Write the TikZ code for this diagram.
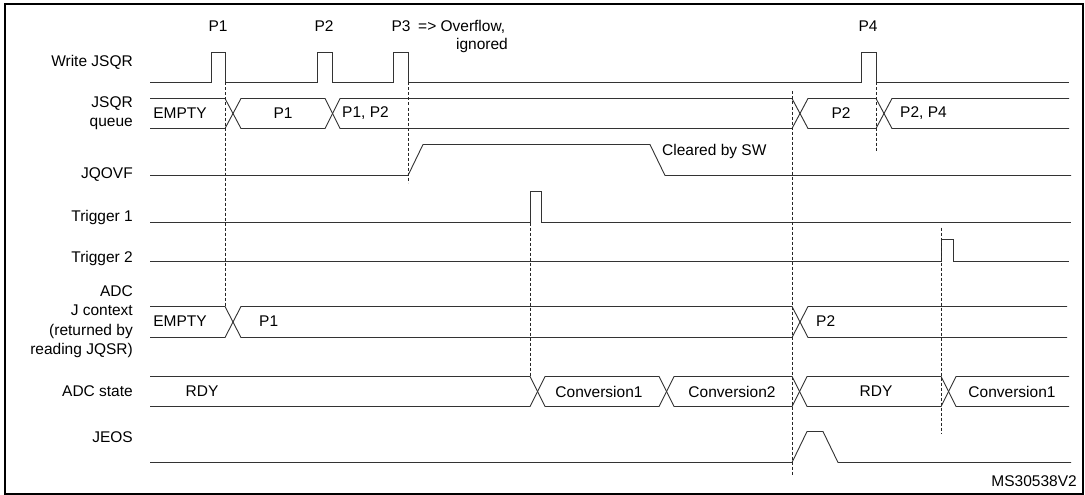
\documentclass[tikz,border=0pt]{standalone}
\usepackage{fontspec}
\setmainfont{Liberation Sans}
\begin{document}
\begin{tikzpicture}[x=1pt,y=-1pt,
  sig/.style={draw=black!80,line width=0.9pt},
  guide/.style={draw=black!85,line width=0.7pt,dash pattern=on 3pt off 2pt},
  lab/.style={anchor=east,align=right,font=\fontsize{15.5}{19}\selectfont,inner sep=0pt},
  txt/.style={font=\fontsize{15.5}{18}\selectfont,inner sep=0pt}]
\useasboundingbox (0,0) rectangle (1085,495);
\fill[white] (0,0) rectangle (1085,495);
\draw[line width=1.6pt] (5,4) rectangle (1083,494);
\begin{scope}[yshift=3.5pt]
% labels
\node[lab] (lw) at (133,66) {Write JSQR};
\node[lab] (lq) at (133,117) {JSQR\\queue};
\node[lab] (lo) at (133,178) {JQOVF};
\node[lab] (l1) at (133,221) {Trigger 1};
\node[lab] (l2) at (133,262) {Trigger 2};
\node[lab,font=\fontsize{15.5}{19.5}\selectfont] (lj) at (133,325) {ADC\\J context\\(returned by\\reading JQSR)};
\node[lab] (ls) at (133,395) {ADC state};
\node[lab] (le) at (133,441) {JEOS};
% top labels
\node[txt] (p1) at (218,30) {P1};
\node[txt] (p2) at (324,30) {P2};
\node[txt] (p3) at (401,30) {P3};
\node[txt,anchor=west] (ov) at (418,30) {=> Overflow,};
\node[txt] (ig) at (482,49) {ignored};
\node[txt] (p4) at (868,30) {P4};
% Write JSQR
\draw[sig] (150,86)--(211,86)--(211,56)--(225,56)--(225,86)--(317,86)--(317,56)--(332,56)--(332,86)
  --(393,86)--(393,56)--(408,56)--(408,86)--(861,86)--(861,56)--(876,56)--(876,86)--(1069,86);
% JSQR queue
\draw[sig] (150,102)--(225,102)--(241,132)--(325,132)--(340,102)--(792,102)--(808,132)--(876,132)--(892,102)--(1069,102);
\draw[sig] (150,132)--(225,132)--(241,102)--(325,102)--(340,132)--(792,132)--(808,102)--(876,102)--(892,132)--(1069,132);
\node[txt] (qe) at (180,117) {EMPTY};
\node[txt] (q1) at (283,117) {P1};
\node[txt,anchor=west] (q12) at (342,117) {P1, P2};
\node[txt] (q2) at (841,117) {P2};
\node[txt,anchor=west] (q24) at (900,117) {P2, P4};
% JQOVF
\draw[sig] (150,179)--(408,179)--(423,148)--(650,148)--(665,179)--(1071,179);
\node[txt,anchor=west] (cl) at (662,155) {Cleared by SW};
% Trigger 1
\draw[sig] (150,226)--(530,226)--(530,195)--(541,195)--(541,226)--(1071,226);
% Trigger 2
\draw[sig] (150,265)--(941,265)--(941,243)--(953,243)--(953,265)--(1069,265);
% J context
\draw[sig] (150,310)--(225,310)--(241,341)--(792,341)--(808,310)--(1067,310);
\draw[sig] (150,341)--(225,341)--(241,310)--(792,310)--(808,341)--(1067,341);
\node[txt] (je) at (180,325) {EMPTY};
\node[txt,anchor=west] (j1) at (259,325) {P1};
\node[txt,anchor=west] (j2) at (816,325) {P2};
% ADC state
\draw[sig] (150,380)--(530,380)--(545,410)--(659,410)--(674,380)--(792,380)--(807,410)--(941,410)--(956,380)--(1069,380);
\draw[sig] (150,410)--(530,410)--(545,380)--(659,380)--(674,410)--(792,410)--(807,380)--(941,380)--(956,410)--(1069,410);
\node[txt] (sr) at (202,395) {RDY};
\node[txt] (sc1) at (599,395) {Conversion1};
\node[txt] (sc2) at (732,395) {Conversion2};
\node[txt] (sr2) at (876,395) {RDY};
\node[txt] (sc3) at (1012,395) {Conversion1};
% JEOS
\draw[sig] (150,466)--(792,466)--(807,435)--(823,435)--(838,466)--(1071,466);
% guides
\coordinate (g1a) at (225,86); \coordinate (g1b) at (225,310);
\coordinate (g2a) at (408,86); \coordinate (g2b) at (408,186);
\coordinate (g3a) at (530,226); \coordinate (g3b) at (530,380);
\coordinate (g4a) at (792,95); \coordinate (g4b) at (792,478);
\coordinate (g5a) at (876,86); \coordinate (g5b) at (876,155);
\coordinate (g6a) at (941,231); \coordinate (g6b) at (941,437);
\foreach \a/\b in {g1a/g1b,g2a/g2b,g3a/g3b,g4a/g4b,g5a/g5b,g6a/g6b} \draw[guide] (\a)--(\b);
\end{scope}
\node[txt,anchor=east] (ms) at (1077,481) {MS30538V2};
\end{tikzpicture}
\end{document}
